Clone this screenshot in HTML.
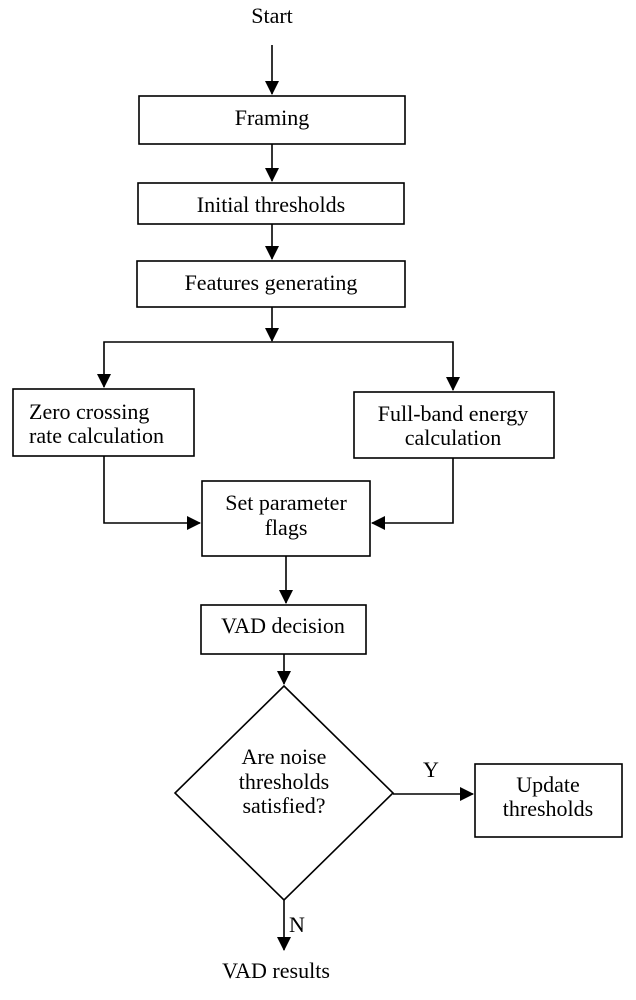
<!DOCTYPE html>
<html><head><meta charset="utf-8"><style>
html,body{margin:0;padding:0;background:#fff;}
svg{display:block;}
text{font-family:"Liberation Serif",serif;font-size:22px;fill:#000;text-anchor:middle;}
</style></head><body>
<svg width="636" height="1000" viewBox="0 0 636 1000" xmlns="http://www.w3.org/2000/svg">
<defs><marker id="b" markerWidth="14" markerHeight="14" refX="13" refY="7" orient="auto" markerUnits="userSpaceOnUse"><path d="M0,0 L14,7 L0,14 z" fill="#000"/></marker></defs>
<g fill="none" stroke="#000" stroke-width="1.6">
<rect x="139" y="96" width="266" height="48"/>
<rect x="138" y="183" width="266" height="41"/>
<rect x="137" y="261" width="268" height="46"/>
<rect x="13" y="389" width="181" height="67"/>
<rect x="354" y="392" width="200" height="66"/>
<rect x="202" y="481" width="168" height="75"/>
<rect x="201" y="605" width="165" height="49"/>
<polygon points="284,686 393,793 284,900 175,793"/>
<rect x="475" y="764" width="147" height="73"/>
</g>
<g stroke="#000" stroke-width="1.6" fill="none" marker-end="url(#b)">
<line x1="272" y1="45" x2="272" y2="94"/>
<line x1="272" y1="144" x2="272" y2="181"/>
<line x1="272" y1="224" x2="272" y2="259"/>
<line x1="272" y1="307" x2="272" y2="341"/>
<polyline points="272,342 104,342 104,387"/>
<polyline points="272,342 453,342 453,390"/>
<polyline points="104,456 104,523 200,523"/>
<polyline points="453,458 453,523 372,523"/>
<line x1="286" y1="556" x2="286" y2="603"/>
<line x1="284" y1="654" x2="284" y2="684"/>
<line x1="393" y1="794" x2="473" y2="794"/>
<line x1="284" y1="900" x2="284" y2="950"/>
</g>
<text x="272" y="23">Start</text>
<text x="272" y="125">Framing</text>
<text x="271" y="212">Initial thresholds</text>
<text x="271" y="290">Features generating</text>
<text x="29" y="419" style="text-anchor:start">Zero crossing</text>
<text x="29" y="443" style="text-anchor:start">rate calculation</text>
<text x="453" y="421">Full-band energy</text>
<text x="453" y="445">calculation</text>
<text x="286" y="510">Set parameter</text>
<text x="286" y="535">flags</text>
<text x="283" y="633">VAD decision</text>
<text x="284" y="764">Are noise</text>
<text x="284" y="789">thresholds</text>
<text x="284" y="813">satisfied?</text>
<text x="431" y="777">Y</text>
<text x="548" y="792">Update</text>
<text x="548" y="816">thresholds</text>
<text x="297" y="932">N</text>
<text x="276" y="978">VAD results</text>
</svg>
</body></html>
